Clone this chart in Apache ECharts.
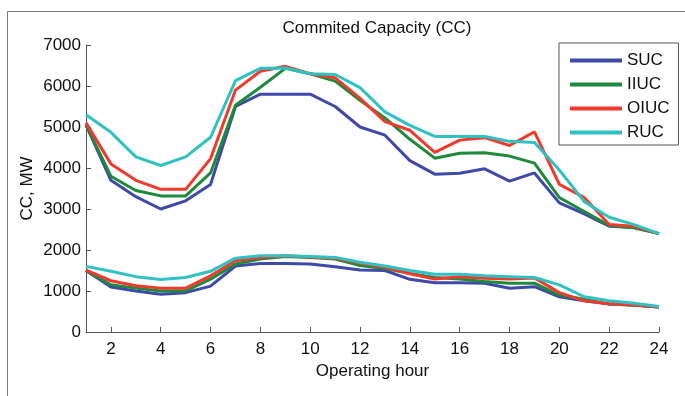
<!DOCTYPE html>
<html>
<head>
<meta charset="utf-8">
<script src="https://cdn.jsdelivr.net/npm/echarts@6/dist/echarts.min.js"></script>
<style>
  html, body { margin: 0; padding: 0; background: #fff; }
  #chart { width: 685px; height: 396px; }
</style>
</head>
<body>
<div id="chart"></div>
<script>
// hours 1..24
var hours = [];
for (var h = 1; h <= 24; h++) hours.push(h);
var xTicks = [2, 4, 6, 8, 10, 12, 14, 16, 18, 20, 22, 24];

// upper group
var sucHigh  = [5050, 3700, 3300, 3000, 3200, 3600, 5500, 5800, 5800, 5800, 5500, 5000, 4800, 4180, 3850, 3870, 3980, 3680, 3880, 3150, 2880, 2580, 2550, 2400];
var iiucHigh = [5050, 3800, 3450, 3320, 3320, 3880, 5530, 5970, 6430, 6300, 6120, 5650, 5220, 4700, 4240, 4360, 4370, 4290, 4120, 3280, 2940, 2600, 2540, 2400];
var oiucHigh = [5100, 4100, 3700, 3480, 3480, 4230, 5900, 6360, 6480, 6300, 6200, 5700, 5130, 4920, 4380, 4680, 4740, 4550, 4880, 3600, 3280, 2620, 2580, 2400];
var rucHigh  = [5300, 4870, 4270, 4060, 4270, 4750, 6130, 6430, 6440, 6300, 6280, 5960, 5370, 5040, 4770, 4770, 4770, 4650, 4620, 3950, 3180, 2800, 2620, 2400];

// lower group
var sucLow  = [1500, 1100, 1000, 920, 960, 1120, 1610, 1670, 1670, 1660, 1590, 1510, 1500, 1285, 1200, 1200, 1190, 1065, 1105, 860, 760, 680, 660, 610];
var iiucLow = [1500, 1150, 1070, 1000, 1000, 1290, 1660, 1780, 1840, 1820, 1780, 1620, 1550, 1430, 1330, 1290, 1230, 1190, 1190, 900, 800, 680, 650, 610];
var oiucLow = [1510, 1250, 1130, 1070, 1070, 1370, 1740, 1820, 1860, 1830, 1800, 1680, 1580, 1420, 1290, 1350, 1310, 1290, 1320, 960, 760, 690, 660, 610];
var rucLow  = [1600, 1480, 1350, 1280, 1330, 1480, 1800, 1860, 1860, 1840, 1820, 1700, 1610, 1500, 1410, 1410, 1370, 1350, 1330, 1150, 860, 760, 700, 620];

var names = ['SUC', 'IIUC', 'OIUC', 'RUC'];
var colors = ['#3f4aa8', '#1d8a3c', '#f03a2c', '#2fc1c3'];
var highs = [sucHigh, iiucHigh, oiucHigh, rucHigh];
var lows = [sucLow, iiucLow, oiucLow, rucLow];

function pairs(vals) {
    return hours.map(function (h, i) { return [h, vals[i]]; });
}

var series = [];
for (var k = 0; k < 2; k++) {
    var group = k === 0 ? lows : highs;
    for (var i = 0; i < 4; i++) {
        series.push({
            name: names[i],
            type: 'line',
            symbol: 'none',
            data: pairs(group[i]),
            lineStyle: { color: colors[i], width: 3 },
            itemStyle: { color: colors[i] }
        });
    }
}

var font = 'Liberation Sans, Arial, sans-serif';
var myChart = echarts.init(document.getElementById('chart'));
var option = {
    animation: false,
    textStyle: { fontFamily: font },
    title: {
        text: 'Commited Capacity (CC)',
        left: 372, top: 15,
        textAlign: 'center',
        textStyle: { fontSize: 17, fontWeight: 'normal', color: '#111', fontFamily: font }
    },
    graphic: [{
        type: 'rect',
        shape: { x: 7.5, y: 11.5, width: 700, height: 400 },
        style: { fill: 'none', stroke: '#777', lineWidth: 1 },
        silent: true
    }],
    legend: {
        data: names,
        orient: 'vertical',
        left: 559, top: 43,
        padding: [9, 9, 4, 11],
        icon: 'rect',
        itemWidth: 52, itemHeight: 4, itemGap: 7,
        backgroundColor: '#fff',
        borderColor: '#555', borderWidth: 1, borderRadius: 0,
        textStyle: { fontSize: 17, color: '#111', fontFamily: font }
    },
    grid: { left: 86, right: 26, top: 45, bottom: 64 },
    xAxis: {
        type: 'value',
        min: 1, max: 24,
        name: 'Operating hour',
        nameLocation: 'middle',
        nameGap: 28,
        nameTextStyle: { fontSize: 17, color: '#111' },
        axisLine: { lineStyle: { color: '#555', width: 1 } },
        axisTick: { inside: true, length: 5, customValues: xTicks, lineStyle: { color: '#555' } },
        axisLabel: { customValues: xTicks, fontSize: 17, color: '#111', margin: 9 },
        splitLine: { show: false }
    },
    yAxis: {
        type: 'value',
        min: 0, max: 7000, interval: 1000,
        name: 'CC, MW',
        nameLocation: 'middle',
        nameGap: 50,
        nameMoveOverlap: false,
        nameTextStyle: { fontSize: 17, color: '#111' },
        axisLine: { show: true, lineStyle: { color: '#555', width: 1 } },
        axisTick: { show: true, inside: true, length: 5, lineStyle: { color: '#555' } },
        axisLabel: { fontSize: 17, color: '#111', margin: 5, formatter: function (v) { return String(v); } },
        splitLine: { show: false }
    },
    series: series
};
myChart.setOption(option);
</script>
</body>
</html>
